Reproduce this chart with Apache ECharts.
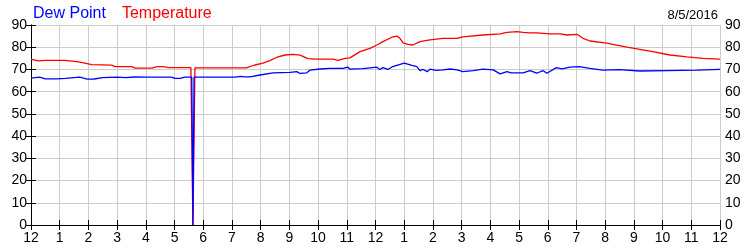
<!DOCTYPE html>
<html>
<head>
<meta charset="utf-8">
<script src="https://cdn.jsdelivr.net/npm/echarts@6/dist/echarts.min.js"></script>
<style>html,body{margin:0;padding:0;background:#fff}#c{width:750px;height:250px}</style>
</head>
<body>
<div id="c"></div>
<script>
var dateLabel = '8/5/2016';
var seriesNames = ['Dew Point', 'Temperature'];
var xTickLabels = ['12','1','2','3','4','5','6','7','8','9','10','11','12','1','2','3','4','5','6','7','8','9','10','11','12'];

var tempHours = [0,0.25,0.5,1.18,1.59,1.88,2.11,2.81,2.93,3.51,3.62,4.2,4.4,4.6,4.8,5.57,5.64,5.71,7.5,7.8,8.08,8.32,8.57,8.85,9.13,9.37,9.65,9.96,10.52,10.69,10.94,11.11,11.46,11.81,12.05,12.26,12.57,12.75,12.85,12.96,13.13,13.3,13.55,13.9,14.35,14.84,15.05,15.74,16.34,16.58,16.93,17.14,17.38,17.62,18.08,18.43,18.67,19.02,19.23,19.47,20.06,20.27,20.76,21.21,21.66,22.26,22.85,23.41,24];
var tempValues = [74.6,73.9,74.1,74.1,73.5,72.8,72.2,71.9,71.3,71.3,70.6,70.6,71.3,71.3,70.8,70.8,0,70.7,70.7,72,72.8,74,75.5,76.5,76.8,76.4,74.9,74.6,74.6,74.1,75,75.2,78,79.5,81,82.5,84.5,85,84,82,81.3,81,82.5,83.3,84,84,84.7,85.5,86,86.7,87,86.7,86.5,86.5,86,86,85.5,85.8,84,82.8,81.8,81.3,80,79,78,76.5,75.7,75,74.6];

var dewHours = [0,0.3,0.5,0.9,1.2,1.7,1.95,2.2,2.5,3.0,3.3,3.6,4.0,4.9,5.0,5.2,5.35,5.6,5.64,5.68,7.1,7.3,7.45,7.63,7.98,8.43,9.02,9.26,9.37,9.61,9.72,10.07,10.41,10.87,11.04,11.11,11.56,12.05,12.15,12.26,12.43,12.6,13.0,13.27,13.44,13.55,13.66,13.8,13.9,14.1,14.35,14.6,14.84,15.05,15.4,15.74,16.1,16.34,16.58,16.72,17.14,17.38,17.62,17.83,17.97,18.3,18.5,18.77,19.1,19.47,19.92,20.5,21.2,22.15,23.2,24];
var dewValues = [66.1,66.5,65.8,65.8,66,66.5,65.6,65.7,66.3,66.5,66.3,66.6,66.5,66.5,66,66,66.5,66.5,0,66.5,66.5,66.9,66.7,66.7,67.5,68.5,68.7,69,68.2,68.5,69.7,70.2,70.5,70.5,71,70.1,70.4,71,70,70.8,70,71.3,72.8,71.8,71.3,69.5,70,69,70.1,69.6,69.8,70.2,69.8,69,69.5,70.1,69.8,68,69,68.5,68.5,69.5,68.3,69.5,68.3,70.8,70.3,71,71.3,70.5,69.7,69.9,69.3,69.5,69.7,70];

function pairs(xs, ys) { return xs.map(function (x, i) { return [x, ys[i]]; }); }

var chart = echarts.init(document.getElementById('c'), null, {renderer: 'canvas'});
var font = 'Liberation Sans, Arial, sans-serif';
var axisCommon = {
  axisLine: {show: true, lineStyle: {color: '#000', width: 1}},
  axisTick: {show: true, inside: true, length: 5, lineStyle: {color: '#000'}},
  splitLine: {show: false}
};
chart.setOption({
  animation: false,
  backgroundColor: '#fff',
  textStyle: {fontFamily: font},
  title: {
    text: dateLabel, right: 27, top: 4,
    textStyle: {fontSize: 13, fontWeight: 'normal', color: '#000', fontFamily: font}
  },
  legend: {
    left: 23, top: 1, icon: 'none', itemWidth: 0, itemGap: 11,
    data: [
      {name: seriesNames[0], textStyle: {color: '#0000ff'}},
      {name: seriesNames[1], textStyle: {color: '#ff0000'}}
    ],
    textStyle: {fontSize: 16, fontFamily: font}
  },
  grid: {left: 31, right: 30, top: 25, bottom: 25, containLabel: false},
  xAxis: [
    Object.assign({}, axisCommon, {
      type: 'value', min: 0, max: 24, interval: 1, position: 'bottom',
      splitLine: {show: true, lineStyle: {color: '#cccccc', width: 1}},
      axisLabel: {show: true, margin: 6, fontSize: 14, color: '#000', fontFamily: font,
        formatter: function (v) { return xTickLabels[Math.round(v)]; }}
    }),
    Object.assign({}, axisCommon, {
      type: 'value', min: 0, max: 24, interval: 1, position: 'top',
      axisLabel: {show: false}
    })
  ],
  yAxis: [
    Object.assign({}, axisCommon, {
      type: 'value', min: 0, max: 90, interval: 10, position: 'left',
      splitLine: {show: true, lineStyle: {color: '#cccccc', width: 1}},
      axisLabel: {show: true, margin: 4, fontSize: 14, color: '#000', fontFamily: font}
    }),
    Object.assign({}, axisCommon, {
      type: 'value', min: 0, max: 90, interval: 10, position: 'right',
      axisLabel: {show: true, margin: 5, fontSize: 14, color: '#000', fontFamily: font}
    })
  ],
  series: [
    {name: seriesNames[1], type: 'line', data: pairs(tempHours, tempValues), showSymbol: false, symbol: 'none',
      lineStyle: {color: '#ff0000', width: 1.3}, itemStyle: {color: '#ff0000'}},
    {name: seriesNames[0], type: 'line', data: pairs(dewHours, dewValues), showSymbol: false, symbol: 'none',
      lineStyle: {color: '#0000ff', width: 1.3}, itemStyle: {color: '#0000ff'}}
  ]
});
</script>
</body>
</html>
